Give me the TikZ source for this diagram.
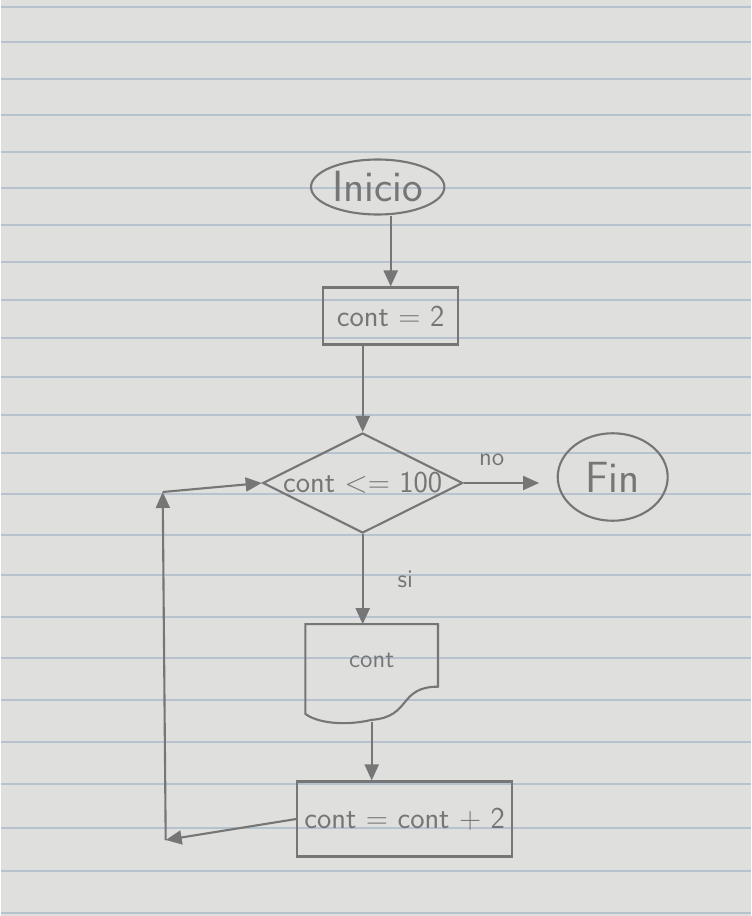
\documentclass[tikz,border=0pt]{standalone}
\usepackage{tikz}
\usetikzlibrary{shapes.geometric,arrows.meta,calc}

\definecolor{paper}{HTML}{DFDFDE}
\definecolor{ruling}{HTML}{B6C3CE}
\definecolor{ink}{HTML}{767676}

\begin{document}
\begin{tikzpicture}[x=0.02cm,y=-0.02cm]
  \tikzset{every node/.style={text=ink, font=\sffamily},
    flow/.style={draw=ink, line width=1.2pt, -{Triangle[length=3.2mm,width=2.8mm]}},
    terminal/.style={ellipse, draw=ink, line width=1.2pt, inner sep=1pt, font=\sffamily\Huge},
    process/.style={rectangle, draw=ink, line width=1.2pt, font=\sffamily\LARGE},
    decision/.style={diamond, draw=ink, line width=1.2pt, minimum width=4cm, minimum height=2cm, inner sep=0pt}}
  % hoja rayada
  \fill[paper] (0,0) rectangle (750,916);
  \foreach \y in {7,42,79,115,152,188,225,262,300,338,377,415,453,494,535,575,617,658,700,742,784,828,871,913}
    \draw[ruling, line width=0.8pt] (0,\y) -- (750,\y);

  \node[terminal, minimum width=2.5cm, minimum height=1.1cm] (start) at (377,187) {Inicio};
  \node[process, minimum width=2.7cm, minimum height=1.14cm] (init) at (390,316) {cont = 2};
  \node[decision, label={[font=\sffamily\LARGE, text=ink]center:cont <= 100}] (cond) at (362,483) {};
  \node[terminal, minimum width=2.2cm, minimum height=1.75cm] (fin) at (612,477) {Fin};
  \node[minimum width=2.64cm, minimum height=1.94cm, font=\sffamily\Large, text depth=14pt] (out) at (371,673) {cont};
  \node[process, minimum width=4.3cm, minimum height=1.5cm] (step) at (404,819) {cont = cont + 2};
  \coordinate (loopbot) at (165,840);
  \coordinate (looptop) at (162,492);

  % documento
  \draw[ink, line width=1.2pt] (out.north west) -- (out.north east)
    -- ($(out.north east)!0.64!(out.south east)$)
    .. controls ($(out.north east)!0.64!(out.south east)+(-40,0)$) and ($(out.south)+(40,-5)$) .. ($(out.south)+(0,-2)$)
    .. controls ($(out.south)+(-30,5)$) and ($(out.south west)+(10,0)$) .. ($(out.south west)+(0,-8)$)
    -- cycle;

  \draw[flow] (init.north |- start.south) -- (init.north);
  \draw[flow] (init.south -| cond.north) -- (cond.north);
  \draw[flow, shorten >=10pt] (cond.east) -- (cond.east -| fin.west)
    node[pos=0.3, above=6pt, font=\sffamily\Large] (nolbl) {no};
  \draw[flow] (cond.south) -- (cond.south |- out.north)
    node[midway, right=16pt, font=\sffamily\Large] (silbl) {si};
  \draw[flow] (out.south) -- (out.south |- step.north);
  \draw[flow] (step.west) -- (loopbot);
  \draw[flow] (loopbot) -- (looptop);
  \draw[flow] (looptop) -- (cond.west);
\end{tikzpicture}
\end{document}
